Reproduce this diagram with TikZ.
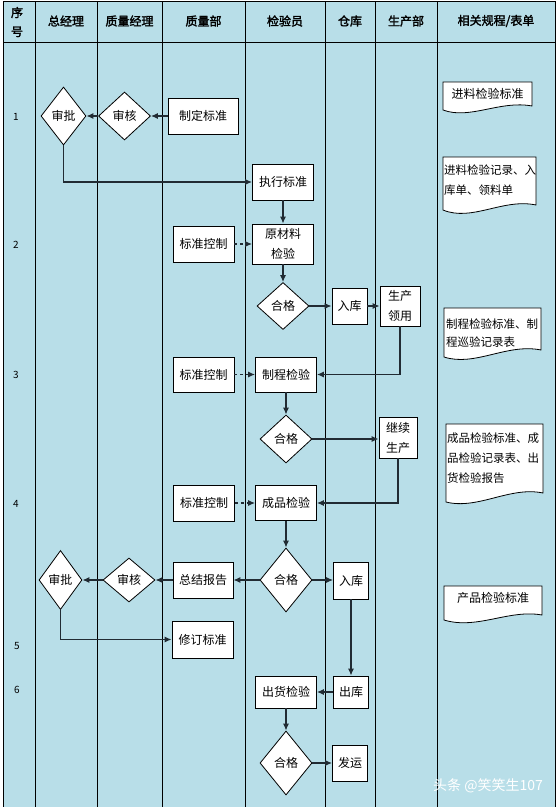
\documentclass[tikz,border=0pt]{standalone}
\usepackage{fontspec}
\setmainfont{Noto Sans CJK SC}
\newfontfamily\hdfont[FakeBold=2]{Noto Sans CJK SC}
\usepackage{tikz}
\usetikzlibrary{arrows.meta}
\usetikzlibrary{shapes.geometric}
\definecolor{lane}{rgb}{.72,.87,.91}
\definecolor{conn}{rgb}{.13,.17,.2}

\tikzset{
  box/.style={rectangle,draw,fill=white,line width=.8pt,inner sep=0pt,
    minimum width=61pt,minimum height=36pt,align=center,
    font=\fontsize{12}{20}\selectfont},
  sbox/.style={box,minimum width=35pt},
  dec/.style={diamond,draw,fill=white,line width=.8pt,inner sep=0pt,
    minimum width=52pt,minimum height=48pt,font=\fontsize{12}{14}\selectfont},
  flow/.style={draw=conn,line width=1.2pt,-{Latex[length=7pt,width=6pt]}},
  ctl/.style={flow,dashed},
  sep/.style={line width=.8pt},
  head/.style={font=\hdfont\fontsize{12}{19}\selectfont,align=center},
  rowno/.style={font=\fontsize{10}{12}\selectfont},
  docu/.style={draw,fill=white,line width=.8pt},
  doctxt/.style={inner sep=1pt,align=left,font=\fontsize{11.5}{20}\selectfont}
}

\begin{document}
\begin{tikzpicture}[x=1pt,y=-1pt]
\useasboundingbox (0,0) rectangle (557,807);

% lanes
\fill[lane] (3,1) rectangle (555,812);
\draw[sep] (3,1) rectangle (555,812);
\draw[sep] (3,42.5) -- (555,42.5);
\draw[sep] (35,1) -- (35,812);
\draw[sep] (97,1) -- (97,812);
\draw[sep] (162,1) -- (162,812);
\draw[sep] (245,1) -- (245,812);
\draw[sep] (325,1) -- (325,812);
\draw[sep] (375,1) -- (375,812);
\draw[sep] (437,1) -- (437,812);

\draw (17,22) node[head] (hno) {序\\号};
\draw (66,21) node[head] (hgm) {总经理};
\draw (129.5,21) node[head] (hqm) {质量经理};
\draw (203.5,21) node[head] (hqd) {质量部};
\draw (285,21) node[head] (hins) {检验员};
\draw (350,21) node[head] (hwh) {仓库};
\draw (406,21) node[head] (hprod) {生产部};
\draw (496,21) node[head] (hdoc) {相关规程/表单};

\draw (16,117) node[rowno] (r1) {1};
\draw (16,245) node[rowno] (r2) {2};
\draw (16,375) node[rowno] (r3) {3};
\draw (16,504) node[rowno] (r4) {4};
\draw (17,646) node[rowno] (r5) {5};
\draw (17,690) node[rowno] (r6) {6};

% step 1
\draw (203,116) node[box,minimum width=70pt] (std) {制定标准};
\draw (124.5,116) node[dec] (rev1) {审核};
\draw (63.5,116) node[dec,minimum width=45pt,minimum height=58pt] (appr1) {审批};
\draw (283,182) node[box] (exec) {执行标准};

% step 2
\draw (283,244) node[box,minimum height=40pt] (raw) {原材料\\检验};
\draw (203.5,244) node[box] (ctl2) {标准控制};
\draw (283,306) node[dec,minimum height=47pt] (pass2) {合格};
\draw (349.5,306) node[sbox] (in2) {入库};
\draw (400,306) node[box,minimum width=40pt,minimum height=40pt] (use2) {生产\\领用};

% step 3
\draw (286,374.5) node[box,minimum height=35pt] (proc) {制程检验};
\draw (203.5,374.5) node[box,minimum height=35pt] (ctl3) {标准控制};
\draw (286,439) node[dec] (pass3) {合格};
\draw (398,437.5) node[box,minimum width=38pt,minimum height=41pt] (cont) {继续\\生产};

% step 4
\draw (286,503) node[box,minimum height=35pt] (prod) {成品检验};
\draw (204,503) node[box] (ctl4) {标准控制};
\draw (286,580) node[dec,minimum height=64pt] (pass4) {合格};
\draw (203,580) node[box,minimum width=60pt] (sum) {总结报告};
\draw (129,580) node[dec,minimum height=44pt] (rev4) {审核};
\draw (60.5,580) node[dec,minimum width=43pt,minimum height=59pt] (appr4) {审批};
\draw (351,580.5) node[sbox,minimum height=37pt] (in4) {入库};

% step 5, 6
\draw (202.5,639.5) node[box,minimum height=37pt] (rev) {修订标准};
\draw (351,692) node[sbox,minimum height=32pt] (outw) {出库};
\draw (286,692) node[box,minimum height=32pt] (ship) {出货检验};
\draw (286,763) node[dec,minimum height=64pt] (pass6) {合格};
\draw (350,763) node[sbox,minimum height=36pt] (send) {发运};

% documents
\filldraw[docu] (443,82) -- (532,82) -- (532,106) .. controls (500,100) and (470,120) .. (443,110) -- cycle;
\filldraw[docu] (443,157) -- (536,157) -- (536,205) .. controls (503,198) and (472,222) .. (443,210) -- cycle;
\filldraw[docu] (444,308) -- (541,308) -- (541,350) .. controls (507,343) and (475,367) .. (444,357) -- cycle;
\filldraw[docu] (446,424) -- (543,424) -- (543,493) .. controls (510,486) and (478,510) .. (446,502) -- cycle;
\filldraw[docu] (444,586) -- (542,586) -- (542,615) .. controls (509,609) and (477,630) .. (444,620) -- cycle;

\draw (487.5,94) node[doctxt,font=\fontsize{12}{14}\selectfont] (doc1) {进料检验标准};
\draw (443,180) node[doctxt,anchor=west] (doc2) {进料检验记录、入\\库单、领料单};
\draw (445,333.5) node[doctxt,anchor=west,font=\fontsize{11.5}{18}\selectfont] (doc3) {制程检验标准、制\\程巡验记录表};
\draw (446,458) node[doctxt,anchor=west] (doc4) {成品检验标准、成\\品检验记录表、出\\货检验报告};
\draw (493,598) node[doctxt,font=\fontsize{12}{14}\selectfont] (doc5) {产品检验标准};

% connectors
\draw[flow] (std.west) -- (rev1.east);
\draw[flow] (rev1.west) -- (appr1.east);
\draw[flow] (appr1.south) |- (exec.west);
\draw[flow] (exec.south) -- (raw.north);
\draw[ctl] (ctl2.east) -- (raw.west);
\draw[flow] (raw.south) -- (pass2.north);
\draw[flow] (pass2.east) -- (in2.west);
\draw[flow] (in2.east) -- (use2.west);
\draw[flow] (use2.south) |- (proc.east);
\draw[ctl] (ctl3.east) -- (proc.west);
\draw[flow] (proc.south) -- (pass3.north);
\draw[flow] (pass3.east) -- (cont.west |- pass3.east);
\draw[flow] (cont.south) |- (prod.east);
\draw[ctl] (ctl4.east) -- (prod.west);
\draw[flow] (prod.south) -- (pass4.north);
\draw[flow] (pass4.west) -- (sum.east);
\draw[flow] (sum.west) -- (rev4.east);
\draw[flow] (rev4.west) -- (appr4.east);
\draw[flow] (appr4.south) |- (rev.west);
\draw[flow] (pass4.east) -- (in4.west |- pass4.east);
\draw[flow] (in4.south) -- (outw.north);
\draw[flow] (outw.west) -- (ship.east);
\draw[flow] (ship.south) -- (pass6.north);
\draw[flow] (pass6.east) -- (send.west);

\draw (488,786) node[text=white,font=\fontsize{14}{16}\selectfont] (mark) {头条 @笑笑生107};
\end{tikzpicture}
\end{document}
